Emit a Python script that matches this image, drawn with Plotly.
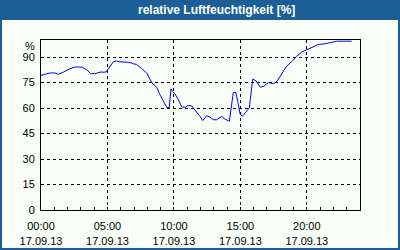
import plotly.graph_objects as go

hours = [0, 0.68, 1.05, 1.30, 1.68, 2.18, 2.56, 3.06, 3.44, 3.74, 4.06, 4.44, 4.87, 5.06, 5.44, 5.69, 5.94,
         6.45, 6.70, 6.95, 7.20, 7.58, 7.95, 8.33, 8.71, 8.95, 9.20, 9.46, 9.65, 9.78, 9.91, 10.08, 10.33,
         10.59, 10.84, 11.08, 11.34, 11.59, 11.96, 12.17, 12.47, 12.72, 12.96, 13.22, 13.60, 13.84, 14.17,
         14.47, 14.65, 14.80, 14.97, 15.15, 15.35, 15.67, 15.93, 16.18, 16.48, 16.73, 17.10, 17.48, 17.74,
         17.98, 18.23, 18.49, 18.86, 19.24, 19.62, 19.99, 20.37, 20.87, 21.37, 21.87, 22.25, 23.38]
humidity = [79.2, 80.6, 80.6, 79.8, 81.1, 83.1, 84.1, 84.1, 82.5, 80.2, 80.2, 81.1, 81.1, 82.9, 87.2, 87.6, 87.2,
            86.8, 86.8, 86.0, 85.6, 83.1, 80.6, 75.0, 72.1, 67.8, 63.9, 60.4, 60.2, 71.3, 69.6, 68.2, 64.9,
            60.6, 60.4, 61.5, 61.2, 59.0, 55.1, 52.6, 55.5, 54.6, 53.1, 53.1, 55.1, 53.5, 52.2,
            69.2, 69.2, 63.9, 56.7, 55.1, 57.1, 60.0, 77.0, 76.0, 72.3, 72.6, 75.0, 74.3, 75.6,
            78.5, 81.7, 84.7, 87.2, 90.5, 92.9, 94.2, 95.8, 97.4, 97.8, 98.4, 99.3, 99.3]

x_tickvals = [0, 5, 10, 15, 20]
x_ticktext = ["00:00<br>17.09.13", "05:00<br>17.09.13", "10:00<br>17.09.13",
              "15:00<br>17.09.13", "20:00<br>17.09.13"]
y_tickvals = [0, 15, 30, 45, 60, 75, 90]
title_text = "relative Luftfeuchtigkeit [%]"
unit_label = "%"

W, H = 400, 250
L, R, T, B = 41, 360, 40, 210
BLUE = "#1b5f96"
BG = "#fafffa"


def px(x):
    return (x - L) / (R - L)


def py(y):
    return (B - y) / (B - T)


fig = go.Figure()
fig.add_trace(go.Scatter(x=hours, y=humidity, mode="lines",
                         line=dict(color="#0000ff", width=1), hoverinfo="skip"))

font = dict(family="Liberation Sans, Arial, sans-serif", size=11, color="#000000")

fig.update_layout(
    width=W, height=H,
    margin=dict(l=L, r=W - R, t=T, b=H - B, pad=0, autoexpand=False),
    paper_bgcolor=BG, plot_bgcolor=BG,
    showlegend=False,
    font=font,
    xaxis=dict(range=[0, 24], tickvals=x_tickvals, ticktext=x_ticktext,
               showgrid=True, gridcolor="#000000", gridwidth=1, griddash="3px,3px",
               showline=True, linecolor="#000000", linewidth=1, mirror=True,
               ticks="inside", ticklen=3, tickcolor="#000000",
               minor=dict(dtick=1, ticks="inside", ticklen=3, tickcolor="#000000", showgrid=False),
               zeroline=False, tickfont=font, ticklabelstandoff=6, automargin=False, fixedrange=True),
    yaxis=dict(range=[0, 100], tickvals=y_tickvals,
               showgrid=True, gridcolor="#000000", gridwidth=1, griddash="3px,3px",
               showline=True, linecolor="#000000", linewidth=1, mirror=True,
               ticks="", zeroline=False, tickfont=font, ticklabelstandoff=3, automargin=False,
               fixedrange=True),
    shapes=[
        dict(type="rect", xref="paper", yref="paper", x0=px(0), x1=px(W), y0=py(20), y1=py(0),
             fillcolor=BLUE, line=dict(width=0), layer="below"),
        dict(type="rect", xref="paper", yref="paper", x0=px(0), x1=px(2), y0=py(H), y1=py(0),
             fillcolor=BLUE, line=dict(width=0), layer="below"),
        dict(type="rect", xref="paper", yref="paper", x0=px(W - 2), x1=px(W), y0=py(H), y1=py(0),
             fillcolor=BLUE, line=dict(width=0), layer="below"),
        dict(type="rect", xref="paper", yref="paper", x0=px(0), x1=px(W), y0=py(H), y1=py(H - 2),
             fillcolor=BLUE, line=dict(width=0), layer="below"),
    ],
    annotations=[
        dict(text="<b>" + title_text + "</b>", xref="paper", yref="paper", x=px(216.5), y=py(10.5),
             xanchor="center", yanchor="middle", showarrow=False,
             font=dict(family="Liberation Sans, Arial, sans-serif", size=12, color="#ffffff")),
        dict(text=unit_label, xref="paper", yref="paper", x=px(37), y=py(45.5),
             xanchor="right", yanchor="middle", showarrow=False, font=font),
    ],
)

fig.write_html("out.html", config={"displayModeBar": False})
